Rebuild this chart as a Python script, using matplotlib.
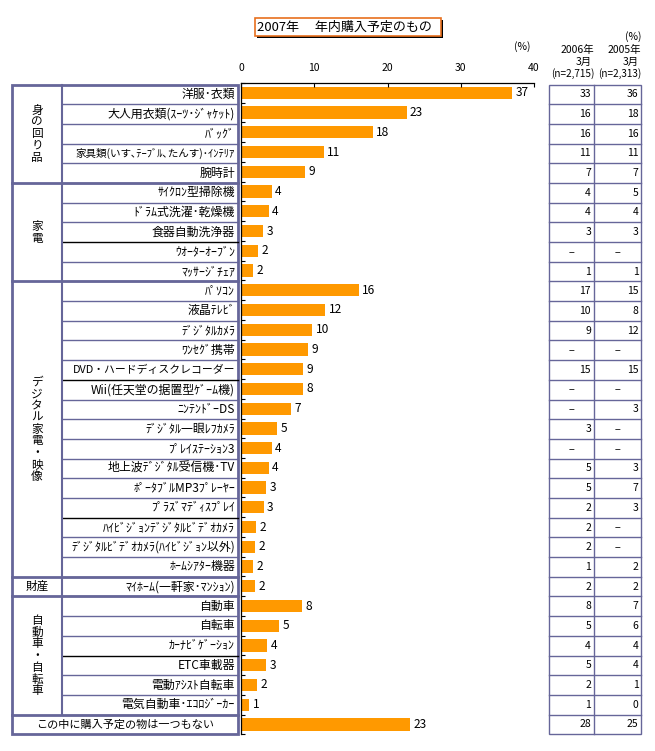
import matplotlib

matplotlib.use("Agg")
import matplotlib.pyplot as plt
from matplotlib.patches import Rectangle
import numpy as np

plt.rcParams["font.family"] = ["Noto Sans CJK JP", "DejaVu Sans"]

ITEMS = [
    "洋服･衣類", "大人用衣類(ｽｰﾂ･ｼﾞｬｹｯﾄ)", "ﾊﾞｯｸﾞ", "家具類(いす､ﾃｰﾌﾞﾙ､たんす)･ｲﾝﾃﾘｱ", "腕時計",
    "ｻｲｸﾛﾝ型掃除機", "ﾄﾞﾗﾑ式洗濯･乾燥機", "食器自動洗浄器", "ｳｵｰﾀｰｵｰﾌﾞﾝ", "ﾏｯｻｰｼﾞﾁｪｱ",
    "ﾊﾟｿｺﾝ", "液晶ﾃﾚﾋﾞ", "ﾃﾞｼﾞﾀﾙｶﾒﾗ", "ﾜﾝｾｸﾞ携帯", "DVD・ハードディスクレコーダー",
    "Wii(任天堂の据置型ｹﾞｰﾑ機)", "ﾆﾝﾃﾝﾄﾞｰDS", "ﾃﾞｼﾞﾀﾙ一眼ﾚﾌｶﾒﾗ", "ﾌﾟﾚｲｽﾃｰｼｮﾝ3",
    "地上波ﾃﾞｼﾞﾀﾙ受信機･TV", "ﾎﾟｰﾀﾌﾞﾙMP3ﾌﾟﾚｰﾔｰ", "ﾌﾟﾗｽﾞﾏﾃﾞｨｽﾌﾟﾚｲ",
    "ﾊｲﾋﾞｼﾞｮﾝﾃﾞｼﾞﾀﾙﾋﾞﾃﾞｵｶﾒﾗ", "ﾃﾞｼﾞﾀﾙﾋﾞﾃﾞｵｶﾒﾗ(ﾊｲﾋﾞｼﾞｮﾝ以外)", "ﾎｰﾑｼｱﾀｰ機器",
    "ﾏｲﾎｰﾑ(一軒家･ﾏﾝｼｮﾝ)",
    "自動車", "自転車", "ｶｰﾅﾋﾞｹﾞｰｼｮﾝ", "ETC車載器", "電動ｱｼｽﾄ自転車", "電気自動車･ｴｺﾛｼﾞｰｶｰ",
    "この中に購入予定の物は一つもない",
]
# bar lengths and the printed labels
VALUES_2007 = [
    37.0, 22.6, 18.0, 11.3, 8.7,
    4.2, 3.8, 3.05, 2.3, 1.6,
    16.1, 11.5, 9.7, 9.1, 8.4, 8.4, 6.8, 4.9, 4.2, 3.8, 3.4, 3.1, 2.05, 1.9, 1.65,
    1.9,
    8.3, 5.2, 3.6, 3.4, 2.2, 1.1,
    23.1,
]
LABELS_2007 = [37, 23, 18, 11, 9, 4, 4, 3, 2, 2, 16, 12, 10, 9, 9, 8, 7, 5, 4, 4, 3, 3,
               2, 2, 2, 2, 8, 5, 4, 3, 2, 1, 23]
VALUES_2006 = [33, 16, 16, 11, 7, 4, 4, 3, None, 1, 17, 10, 9, None, 15, None, None, 3,
               None, 5, 5, 2, 2, 2, 1, 2, 8, 5, 4, 5, 2, 1, 28]
VALUES_2005 = [36, 18, 16, 11, 7, 5, 4, 3, None, 1, 15, 8, 12, None, 15, None, 3, None,
               None, 3, 7, 3, None, None, 2, 2, 7, 6, 4, 4, 1, 0, 25]
GROUPS = [("身の回り品", 0, 5), ("家電", 5, 10), ("デジタル家電・映像", 10, 25),
          ("財産", 25, 26), ("自動車・自転車", 26, 32)]
BLACK_LINES = [8, 15, 22, 29]  # row indices whose top separator is black

W, H = 655, 751
N = len(ITEMS)
TOP, BOTTOM = 84.5, 734.3
RH = (BOTTOM - TOP) / N
FRAME = "#666699"
BAR = "#FF9900"
CHAR_PITCH = 11.8  # px between stacked group-label characters

fig = plt.figure(figsize=(W / 100, H / 100), dpi=100)

# overlay in pixel coordinates for the tables and headers
ov = fig.add_axes([0, 0, 1, 1])
ov.set_xlim(0, W)
ov.set_ylim(H, 0)
ov.axis("off")


def ry(i):
    return TOP + i * RH


# left table
for i in range(1, N):
    color = "black" if i in BLACK_LINES else FRAME
    ov.plot([62, 238], [ry(i), ry(i)], color=color, lw=1)
for _, a, b in GROUPS[1:]:
    ov.plot([12, 238], [ry(a), ry(a)], color=FRAME, lw=2)
ov.plot([12, 238], [ry(N - 1), ry(N - 1)], color=FRAME, lw=2)
ov.plot([62, 62], [ry(0), ry(N - 1)], color=FRAME, lw=1.5)
ov.add_patch(Rectangle((12, TOP), 226, BOTTOM - TOP, fill=False, ec=FRAME, lw=2))

for i, item in enumerate(ITEMS[:-1]):
    size = 8.6
    if item.startswith("家具"):
        size = 7.6
    elif item.startswith("DVD"):
        size = 7.8
    ov.text(235, ry(i) + RH / 2, item, ha="right", va="center", fontsize=size)
ov.text(125, ry(N - 1) + RH / 2, ITEMS[-1], ha="center", va="center", fontsize=8)

for name, a, b in GROUPS:
    yc = (ry(a) + ry(b)) / 2
    if b - a == 1:
        ov.text(37, yc, name, ha="center", va="center", fontsize=8.4)
        continue
    start = yc - CHAR_PITCH * (len(name) - 1) / 2
    for k, ch in enumerate(name):
        ov.text(37, start + k * CHAR_PITCH, ch, ha="center", va="center", fontsize=8.4)

# right table
ov.add_patch(Rectangle((549, TOP), 92, BOTTOM - TOP, fill=False, ec=FRAME, lw=1))
ov.plot([594, 594], [TOP, BOTTOM], color=FRAME, lw=1)
for i in range(1, N):
    ov.plot([549, 641], [ry(i), ry(i)], color=FRAME, lw=1)
for i in range(N):
    for val, xr, xc in ((VALUES_2006[i], 591, 571.5), (VALUES_2005[i], 638.5, 617.5)):
        if val is None:
            ov.text(xc, ry(i) + RH / 2, "−", ha="center", va="center", fontsize=7.5)
        else:
            ov.text(xr, ry(i) + RH / 2, str(val), ha="right", va="center", fontsize=7.5)

# headers
ov.text(522, 47, "(%)", ha="center", va="center", fontsize=7.5)
ov.text(641, 37, "(%)", ha="right", va="center", fontsize=7.5)
for xr, year, n in ((594, "2006年", "(n=2,715)"), (641, "2005年", "(n=2,313)")):
    ov.text(xr, 50, year, ha="right", va="center", fontsize=7.5)
    ov.text(xr - 2, 62, "3月", ha="right", va="center", fontsize=7.5)
    ov.text(xr, 74, n, ha="right", va="center", fontsize=7.2)

# title box with shadow
ov.add_patch(Rectangle((257, 20), 186, 18, fc="black", ec="none"))
ov.add_patch(Rectangle((255, 18), 186, 18, fc="white", ec="#E8701E", lw=1.2))
ov.text(257, 27.5, "2007年　 年内購入予定のもの", ha="left", va="center", fontsize=9.4)

# bar axes
ax = fig.add_axes([241 / W, 1 - BOTTOM / H, (534 - 241) / W, (BOTTOM - 83) / H])
ax.patch.set_visible(False)
y = np.arange(N) + 0.5
ax.barh(y, VALUES_2007, height=0.62, color=BAR)
for yi, v, lab in zip(y, VALUES_2007, LABELS_2007):
    ax.annotate(str(lab), (v, yi), xytext=(2.5, 0), textcoords="offset points",
                ha="left", va="center", fontsize=8.6)
ax.set_xlim(0, 40)
ax.set_ylim(N, 0)
ax.xaxis.tick_top()
ax.set_xticks([0, 10, 20, 30, 40])
ax.tick_params(axis="x", direction="in", length=3, pad=7, labelsize=7.5, width=0.8)
ax.set_yticks(np.arange(N + 1))
ax.set_yticklabels([])
ax.tick_params(axis="y", direction="in", length=3, width=0.8)
for side in ("right", "bottom"):
    ax.spines[side].set_visible(False)
for side in ("left", "top"):
    ax.spines[side].set_linewidth(0.9)

fig.savefig("out.png", dpi=100)
